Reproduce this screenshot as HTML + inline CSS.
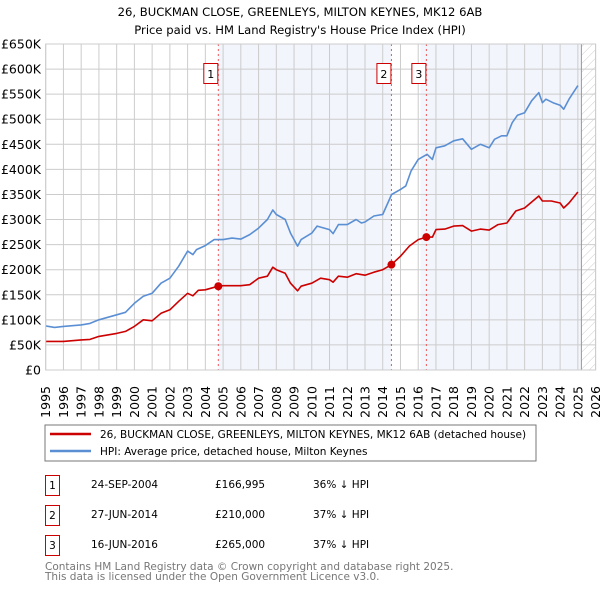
<!DOCTYPE html>
<html><head><meta charset="utf-8"><style>
body{margin:0;background:#fff;font-family:"DejaVu Sans","Liberation Sans",sans-serif;}
#wrap{position:relative;width:600px;height:590px;overflow:hidden;}
</style></head><body><div id="wrap">
<svg id="chart" width="600" height="590" style="position:absolute;left:0;top:0" font-family="DejaVu Sans, Liberation Sans, sans-serif">
<defs><pattern id="hatch" width="6" height="6" patternUnits="userSpaceOnUse" patternTransform="rotate(45)"><line x1="0" y1="0" x2="0" y2="6" stroke="#ccc" stroke-width="1"/></pattern></defs>
<text x="300" y="16" text-anchor="middle" font-size="11.6">26, BUCKMAN CLOSE, GREENLEYS, MILTON KEYNES, MK12 6AB</text>
<text x="300" y="34" text-anchor="middle" font-size="11.6">Price paid vs. HM Land Registry's House Price Index (HPI)</text>
<g id="plot"></g>
</svg>
<svg width="600" height="590" style="position:absolute;left:0;top:0" font-family="DejaVu Sans, Liberation Sans, sans-serif">
<rect x="45" y="425" width="491" height="36" fill="#fff" stroke="#777"/>
<line x1="50" y1="434" x2="91" y2="434" stroke="#cc0000" stroke-width="2.5"/>
<text x="100" y="438" font-size="10.5">26, BUCKMAN CLOSE, GREENLEYS, MILTON KEYNES, MK12 6AB (detached house)</text>
<line x1="50" y1="451" x2="91" y2="451" stroke="#5b8fd4" stroke-width="2.5"/>
<text x="100" y="455" font-size="10.5">HPI: Average price, detached house, Milton Keynes</text>
<g font-size="10.5">
<rect x="45.5" y="475.5" width="14" height="20" fill="#fff" stroke="#cc0000"/><text x="52.5" y="489" text-anchor="middle">1</text>
<text x="91" y="488">24-SEP-2004</text><text x="215" y="488">£166,995</text><text x="313" y="488">36% ↓ HPI</text>
<rect x="45.5" y="505.5" width="14" height="20" fill="#fff" stroke="#cc0000"/><text x="52.5" y="519" text-anchor="middle">2</text>
<text x="91" y="518">27-JUN-2014</text><text x="215" y="518">£210,000</text><text x="313" y="518">37% ↓ HPI</text>
<rect x="45.5" y="535.5" width="14" height="20" fill="#fff" stroke="#cc0000"/><text x="52.5" y="549" text-anchor="middle">3</text>
<text x="91" y="548">16-JUN-2016</text><text x="215" y="548">£265,000</text><text x="313" y="548">37% ↓ HPI</text>
</g>
<text x="45" y="570" font-size="10.5" fill="#777">Contains HM Land Registry data © Crown copyright and database right 2025.</text>
<text x="45" y="580" font-size="10.5" fill="#777">This data is licensed under the Open Government Licence v3.0.</text>
</svg>
</div>
<script>
const yTicks=[0,50,100,150,200,250,300,350,400,450,500,550,600,650];
const yLabels=["£0","£50K","£100K","£150K","£200K","£250K","£300K","£350K","£400K","£450K","£500K","£550K","£600K","£650K"];
const years=[1995,1996,1997,1998,1999,2000,2001,2002,2003,2004,2005,2006,2007,2008,2009,2010,2011,2012,2013,2014,2015,2016,2017,2018,2019,2020,2021,2022,2023,2024,2025,2026];
const hpiT=[1995,1995.5,1996,1997,1997.5,1998,1998.5,1999,1999.5,2000,2000.5,2001,2001.5,2002,2002.5,2003,2003.3,2003.5,2004,2004.5,2005,2005.5,2006,2006.5,2007,2007.5,2007.8,2008,2008.5,2008.8,2009.2,2009.4,2010,2010.3,2010.7,2011,2011.2,2011.5,2012,2012.5,2012.8,2013,2013.5,2014,2014.5,2015,2015.3,2015.6,2016,2016.5,2016.8,2017,2017.5,2018,2018.5,2019,2019.5,2020,2020.3,2020.7,2021,2021.3,2021.6,2022,2022.4,2022.8,2023,2023.2,2023.6,2024,2024.2,2024.5,2025];
const hpiV=[88,85,87,90,93,100,105,110,115,133,147,153,173,183,207,237,230,240,248,260,260,263,261,270,283,300,319,310,300,273,247,260,273,287,283,280,272,290,290,300,293,295,307,310,350,360,367,397,420,430,420,443,447,457,461,440,450,443,460,467,467,493,508,513,537,553,533,540,533,528,520,540,567];
const priceT=[1995,1996,1997,1997.5,1998,1999,1999.5,2000,2000.5,2001,2001.5,2002,2002.5,2003,2003.3,2003.6,2004,2004.73,2005,2006,2006.5,2007,2007.5,2007.8,2008,2008.5,2008.8,2009.2,2009.4,2010,2010.5,2011,2011.2,2011.5,2012,2012.5,2013,2013.5,2014,2014.49,2015,2015.5,2016,2016.46,2016.8,2017,2017.5,2018,2018.5,2019,2019.5,2020,2020.5,2021,2021.5,2022,2022.8,2023,2023.5,2024,2024.2,2024.5,2025];
const priceV=[57,57,60,61,67,73,77,87,100,98,113,120,137,153,148,159,160,167,168,168,170,183,187,205,200,193,173,158,167,173,183,180,175,187,185,192,189,195,200,210,227,247,260,265,265,280,281,287,288,277,281,279,290,293,317,323,347,337,337,333,323,333,355];
const saleT=[2004.73,2014.49,2016.46];
const saleV=[167,210,265];
const saleLabels=["1","2","3"];
const X0=45.7,X1=595.6,Y0=370,Y1=44,T0=1995,T1=2026,VMAX=650,DATA_END=2025.2;
const xs=t=>X0+(t-T0)/(T1-T0)*(X1-X0);
const ys=v=>Y0-v/VMAX*(Y0-Y1);
const NS="http://www.w3.org/2000/svg";
const g=document.getElementById('plot');
function mk(tag,attrs,parent){const e=document.createElementNS(NS,tag);for(const k in attrs)e.setAttribute(k,attrs[k]);(parent||g).appendChild(e);return e;}
let e;
e=mk('rect',{x:xs(saleT[0]),y:Y1,width:xs(saleT[1])-xs(saleT[0]),height:Y0-Y1,fill:'#f2f5fc'});


e=mk('rect',{x:xs(saleT[2])-6,y:Y1,width:xs(DATA_END)-xs(saleT[2])+6,height:Y0-Y1,fill:'#f2f5fc'});


e=mk('rect',{x:xs(DATA_END),y:Y1,width:X1-xs(DATA_END),height:Y0-Y1,fill:'url(#hatch)'});


yTicks.forEach((v,i)=>{
  e=mk('line',{x1:X0,x2:X1,y1:ys(v),y2:ys(v),stroke:'#ccc','stroke-width':1});
  
  
  e=mk('text',{x:41,y:ys(v)+4.5,'text-anchor':'end','font-size':12.5});
  e.textContent=yLabels[i];
  
  
});
years.forEach(yr=>{
  e=mk('line',{x1:xs(yr),x2:xs(yr),y1:Y1,y2:Y0,stroke:'#ccc','stroke-width':1});
  
  
  const tx=xs(yr)+4.5,ty=386;
  e=mk('text',{x:tx,y:ty,'text-anchor':'end','font-size':12.5,transform:`rotate(-90 ${tx} ${ty})`});
  e.textContent=yr;
  
  
});
e=mk('line',{x1:xs(DATA_END),x2:xs(DATA_END),y1:Y1,y2:Y0,stroke:'#999','stroke-width':1});


saleT.forEach((t,i)=>{
  e=mk('line',{x1:xs(t),x2:xs(t),y1:Y1,y2:Y0,stroke:'#e55','stroke-width':1,'stroke-dasharray':'2,3'});
  
  
});
function path(T,V){return T.map((t,i)=>(i?'L':'M')+xs(t).toFixed(1)+','+ys(V[i]).toFixed(1)).join('');}
e=mk('path',{d:path(hpiT,hpiV),fill:'none',stroke:'#5b8fd4','stroke-width':1.6,'stroke-linejoin':'round'});


e=mk('path',{d:path(priceT,priceV),fill:'none',stroke:'#cc0000','stroke-width':1.6,'stroke-linejoin':'round'});


saleT.forEach((t,i)=>{
  e=mk('circle',{cx:xs(t),cy:ys(saleV[i]),r:4,fill:'#cc0000'});
  
  
  e=mk('rect',{x:xs(t)-14.5,y:63.5,width:14,height:20,fill:'#fff',stroke:'#cc0000'});
  
  
  e=mk('text',{x:xs(t)-7.5,y:78,'text-anchor':'middle','font-size':11});
  e.textContent=saleLabels[i];
  
  
});
e=mk('rect',{x:X0,y:Y1,width:X1-X0,height:Y0-Y1,fill:'none',stroke:'#ccc'});


</script>
</body></html>
